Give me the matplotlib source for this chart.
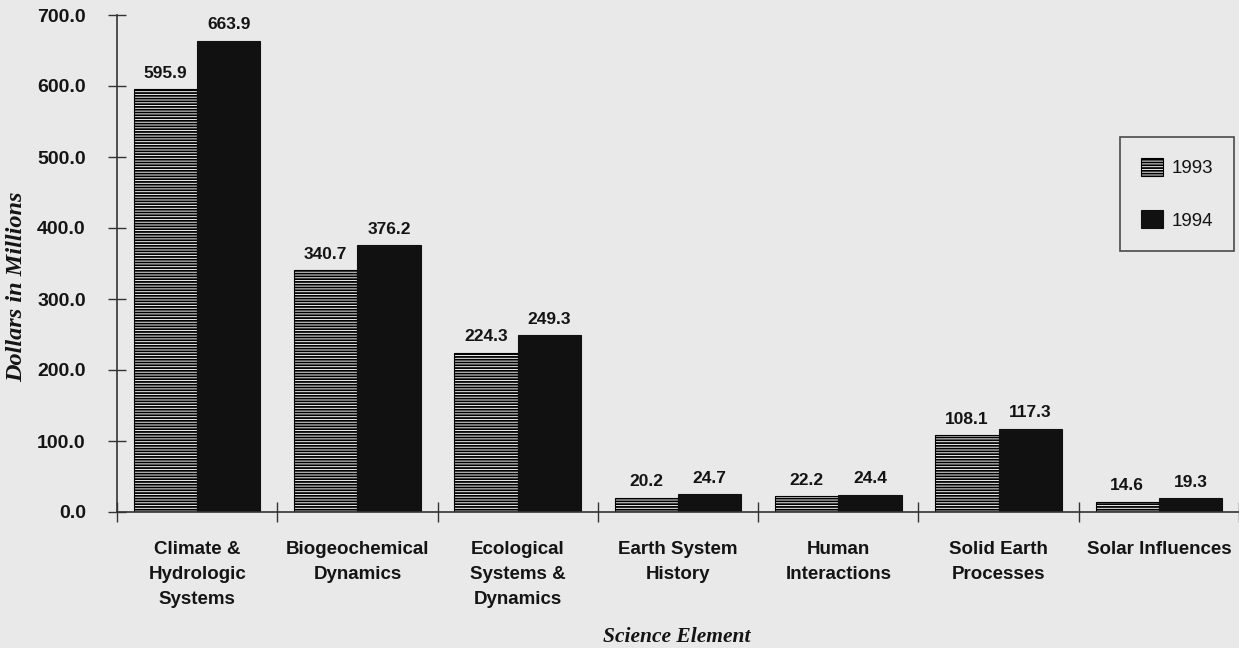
import matplotlib.pyplot as plt
import numpy as np

# data
categories = ["Climate &\nHydrologic\nSystems", "Biogeochemical\nDynamics",
              "Ecological\nSystems &\nDynamics", "Earth System\nHistory",
              "Human\nInteractions", "Solid Earth\nProcesses", "Solar Influences"]
vals_1993 = [595.9, 340.7, 224.3, 20.2, 22.2, 108.1, 14.6]
vals_1994 = [663.9, 376.2, 249.3, 24.7, 24.4, 117.3, 19.3]
yticks = [0, 100, 200, 300, 400, 500, 600, 700]

bg = '#e9e9e9'
ink = '#141414'
plt.rcParams['font.family'] = ['Liberation Sans', 'DejaVu Sans']
plt.rcParams['hatch.linewidth'] = 1.3
plt.rcParams['hatch.color'] = 'black'

fig = plt.figure(figsize=(12.39, 6.48), dpi=100, facecolor=bg)
ax = fig.add_axes([117 / 1239, 1 - 512 / 648, 1 - 117 / 1239, (512 - 15) / 648])
ax.set_facecolor(bg)

x = np.arange(len(categories)) + 0.5
w = 0.395
b1 = ax.bar(x - w / 2, vals_1993, w, facecolor='#f4f4f4', edgecolor='black',
            hatch='------', linewidth=0.8, label='1993')
b2 = ax.bar(x + w / 2, vals_1994, w, facecolor='#111111', edgecolor='#111111',
            linewidth=0.8, label='1994')

for bars, vals in ((b1, vals_1993), (b2, vals_1994)):
    for r, v in zip(bars, vals):
        ax.annotate(f"{v:.1f}", (r.get_x() + r.get_width() / 2, v),
                    xytext=(0, 6), textcoords='offset points',
                    ha='center', va='bottom', fontsize=12.5, fontweight='bold', color=ink)

ax.set_ylim(0, 700)
ax.set_xlim(0, (1239 - 117) / 161.5)
ax.set_yticks(yticks)
ax.set_yticklabels([f"{t:.1f}" for t in yticks], fontsize=14, fontweight='bold', color=ink)
ax.set_xticks(np.arange(len(categories) + 1))
ax.set_xticklabels([])
ax.set_xticks(x, minor=True)
ax.set_xticklabels(categories, minor=True, fontsize=13.5, fontweight='bold', color=ink,
                   linespacing=1.6)
ax.tick_params(axis='x', which='minor', length=0, pad=21)
ax.tick_params(axis='x', which='major', direction='inout', length=15, width=1, color='#333333')
ax.tick_params(axis='y', direction='inout', length=13, width=1, color='#333333', pad=16)

for s in ('top', 'right'):
    ax.spines[s].set_visible(False)
for s in ('left', 'bottom'):
    ax.spines[s].set_color('#333333')
    ax.spines[s].set_linewidth(1.2)

fig.text(17 / 1239, 1 - 287 / 648, "Dollars in Millions", rotation=90,
         ha='center', va='center', fontsize=17.5, fontweight='bold', fontstyle='italic',
         family=['Liberation Serif', 'DejaVu Serif'], color=ink)
fig.text(677 / 1239, 1 - 637 / 648, "Science Element",
         ha='center', va='center', fontsize=15.5, fontweight='bold', fontstyle='italic',
         family=['Liberation Serif', 'DejaVu Serif'], color=ink)

leg = ax.legend(loc='upper left', bbox_to_anchor=((1120 - 117) / 1122, (512 - 137) / 497),
                frameon=True, fancybox=False, handlelength=1.17,
                handleheight=1.1, handletextpad=0.45, labelspacing=1.75,
                borderpad=1.12, borderaxespad=0, prop={'size': 13.5})
for t in leg.get_texts():
    t.set_color(ink)
leg.get_frame().set_edgecolor('#222222')
leg.get_frame().set_facecolor(bg)
leg.get_frame().set_linewidth(1.2)

fig.savefig('out.png', dpi=100, facecolor=bg)
